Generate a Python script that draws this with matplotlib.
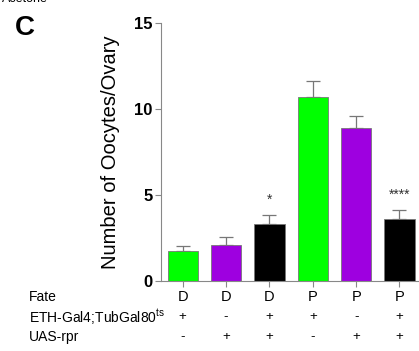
import matplotlib
matplotlib.use("Agg")
import matplotlib.pyplot as plt
import numpy as np

plt.rcParams['font.family'] = ['Liberation Sans', 'DejaVu Sans']

fate = ["D", "D", "D", "P", "P", "P"]
eth_gal4 = ["+", "-", "+", "+", "-", "+"]
uas_rpr = ["-", "+", "+", "-", "+", "+"]
means = [1.76, 2.09, 3.33, 10.68, 8.88, 3.59]
sems = [0.27, 0.45, 0.51, 0.93, 0.72, 0.54]
stars = ["", "", "*", "", "", "****"]
colors = ["#00ff00", "#9e00e0", "#000000", "#00ff00", "#9e00e0", "#000000"]

fig = plt.figure(figsize=(4.19, 3.51), dpi=100)
ax = fig.add_axes([161 / 419, 70 / 351, 1 - 161 / 419, 258 / 351])

x = np.arange(len(means))
ax.bar(x, means, width=0.7, color=colors, edgecolor="#777777", linewidth=0.6, zorder=2)
ax.errorbar(x, means, yerr=[np.zeros(len(sems)), sems], fmt="none", ecolor="#777777",
            elinewidth=0.9, capsize=5, capthick=0.9, zorder=1)
for xi, m, s, st in zip(x, means, sems, stars):
    if st:
        ax.text(xi, m + s + 0.5, st, ha="center", va="bottom", fontsize=10, color="#333333")

ax.set_xlim(-0.5, 5.45)
ax.set_ylim(0, 15)
ax.set_yticks([0, 5, 10, 15])
ax.set_xticks(x)
ax.set_xticklabels([])
for lab in ax.get_yticklabels():
    lab.set_fontweight("bold")
ax.tick_params(axis="y", labelsize=12, length=4, color="#888888", width=0.8, pad=2)
ax.tick_params(axis="x", length=4, color="#888888", width=0.8)
for s in ["top", "right"]:
    ax.spines[s].set_visible(False)
for s in ["left", "bottom"]:
    ax.spines[s].set_color("#888888")
    ax.spines[s].set_linewidth(0.8)
ax.set_ylabel("Number of Oocytes/Ovary", fontsize=14.5, labelpad=10)

# rows of genotype table under the axis
rows = [("Fate", fate, 297), ("ETH-Gal4;TubGal80$^{\\mathregular{ts}}$", eth_gal4, 317),
        ("UAS-rpr", uas_rpr, 337)]
for name, vals, ypix in rows:
    yf = 1 - ypix / 351
    fig.text(29 / 419, yf, name, fontsize=10, ha="left", va="center")
    for xi, v in zip(x, vals):
        xd = ax.transData.transform((xi, 0))[0]
        xf = fig.transFigure.inverted().transform((xd, 0))[0]
        fig.text(xf, yf, v, fontsize=10.5 if name == "Fate" else 9.5, ha="center", va="center")

fig.text(15 / 419, 1 - 28 / 351, "C", fontsize=20, fontweight="bold", ha="left", va="center")
fig.text(2 / 419, 1 + 1 / 351, "Acetone", fontsize=9, ha="left", va="center")

fig.savefig("out.png", dpi=100)
